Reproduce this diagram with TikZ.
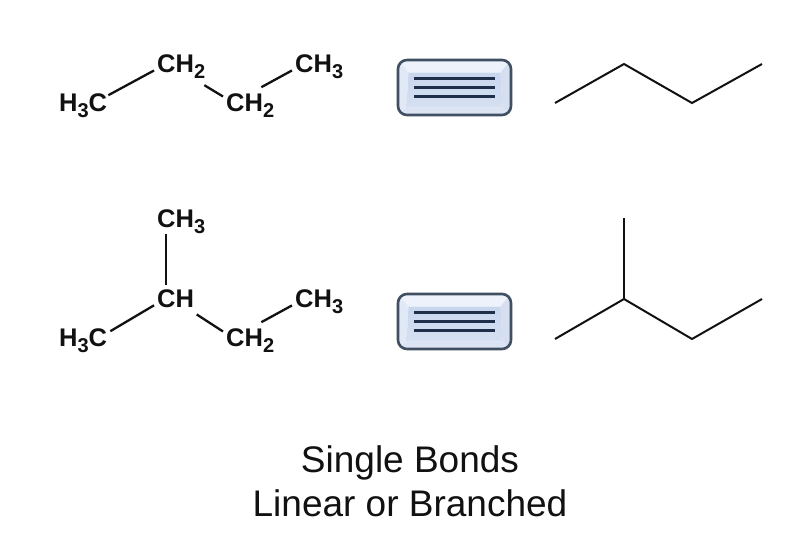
\documentclass[tikz,border=0pt]{standalone}
\usepackage{fontspec}
\setmainfont{Liberation Sans}
\definecolor{bondink}{HTML}{111111}
\definecolor{boxedge}{HTML}{414F63}
\definecolor{boxline}{HTML}{1F2F4A}
\definecolor{boxface}{HTML}{C8D6EE}
\definecolor{facelow}{HTML}{D6E0F2}
\definecolor{bevtop}{HTML}{EEF3FB}
\definecolor{bevbot}{HTML}{DCE4F3}
\definecolor{bevleft}{HTML}{E2E9F6}
\definecolor{bevright}{HTML}{D5DFEF}
\newcommand{\chemsb}[1]{\raisebox{-6pt}{\fontsize{20}{20}\selectfont #1}}
\tikzset{
  x=1pt,y=-1pt,
  chem/.style={anchor=base west,inner sep=0pt,font=\fontsize{25.5}{27}\selectfont\bfseries,text=bondink},
  bond/.style={draw=bondink,line width=2.3pt},
  skeleton/.style={draw=bondink,line width=2pt,line join=miter},
  title/.style={anchor=base,inner sep=0pt,font=\fontsize{37}{40}\selectfont,text=bondink},
  equalbox/.style={minimum width=113pt,minimum height=55pt,inner sep=0pt,outer sep=0pt},
  boxoutline/.style={draw=boxedge,line width=2.6pt,rounded corners=9pt},
  triple/.style={draw=boxline,line width=2.8pt}
}
\newcommand{\eqbox}[3]{% name, cx, cy
  \node[equalbox] (#1) at (#2,#3) {};
  \begin{scope}[shift={(#2,#3)}]
    \begin{scope}
      \clip[rounded corners=9pt] (-56.5,-27.5) rectangle (56.5,27.5);
      \fill[bevtop] (-56.5,-27.5) -- (56.5,-27.5) -- (46,-15) -- (-46,-15) -- cycle;
      \fill[bevbot] (-56.5,27.5) -- (56.5,27.5) -- (48,20) -- (-48,20) -- cycle;
      \fill[bevleft] (-56.5,-27.5) -- (-46,-15) -- (-48,20) -- (-56.5,27.5) -- cycle;
      \fill[bevright] (56.5,-27.5) -- (46,-15) -- (48,20) -- (56.5,27.5) -- cycle;
      \shade[top color=boxface,bottom color=facelow] (-46,-15) -- (46,-15) -- (48,20) -- (-48,20) -- cycle;
    \end{scope}
    \draw[boxoutline] (-56.5,-27.5) rectangle (56.5,27.5);
  \end{scope}
  \draw[triple] ([shift={(-40.5,-9)}]#1.center) -- ([shift={(40.5,-9)}]#1.center);
  \draw[triple] ([shift={(-40.5,0)}]#1.center) -- ([shift={(40.5,0)}]#1.center);
  \draw[triple] ([shift={(-40.5,9)}]#1.center) -- ([shift={(40.5,9)}]#1.center);
}
\begin{document}
\begin{tikzpicture}
\path[use as bounding box,fill=white] (0,0) rectangle (803,554);
% first condensed formula
\node[chem] (a1) at (59,111) {H\chemsb{3}C};
\node[chem] (a2) at (157,72) {CH\chemsb{2}};
\node[chem] (a3) at (226,111) {CH\chemsb{2}};
\node[chem] (a4) at (295,72) {CH\chemsb{3}};
\draw[bond] ([shift={(1,2.2)}]a1.north east) -- ([shift={(-3,4.4)}]a2.west);
\draw[bond] ([shift={(-1,7)}]a2.south east) -- ([shift={(-3,-8.6)}]a3.west);
\draw[bond] ([shift={(-13,-5.8)}]a3.north east) -- ([shift={(-3,-8)}]a4.south west);
% second condensed formula
\node[chem] (b0) at (157,227) {CH\chemsb{3}};
\node[chem] (b1) at (59,346) {H\chemsb{3}C};
\node[chem] (b2) at (157,307) {CH};
\node[chem] (b3) at (226,346) {CH\chemsb{2}};
\node[chem] (b4) at (295,307) {CH\chemsb{3}};
\draw[bond] ([xshift=-9.5pt,yshift=-1pt]b2.north |- b0.south) -- ([shift={(-9.5,-4.3)}]b2.north);
\draw[bond] ([shift={(3,3.2)}]b1.north east) -- ([shift={(-3,7.1)}]b2.west);
\draw[bond] ([shift={(2.5,7)}]b2.south east) -- ([shift={(-3,-8.6)}]b3.west);
\draw[bond] ([shift={(-13,-5.8)}]b3.north east) -- ([shift={(-3,-8)}]b4.south west);
% boxes
\eqbox{boxa}{454.5}{87.5}
\eqbox{boxb}{454.5}{321.5}
% skeletal formulas
\coordinate (s1) at (555,103);
\coordinate (s2) at (624,64);
\coordinate (s3) at (692,103);
\coordinate (s4) at (762,64);
\draw[skeleton] (s1) -- (s2) -- (s3) -- (s4);
\coordinate (t0) at (624,218);
\coordinate (t1) at (555,339);
\coordinate (t2) at (624,299);
\coordinate (t3) at (692,339);
\coordinate (t4) at (762,299);
\draw[skeleton] (t1) -- (t2) -- (t3) -- (t4);
\draw[skeleton] (t0) -- (t2);
% caption
\node[title] (cap1) at (410,472) {Single Bonds};
\node[title] (cap2) at (410,516) {Linear or Branched};
\end{tikzpicture}
\end{document}
